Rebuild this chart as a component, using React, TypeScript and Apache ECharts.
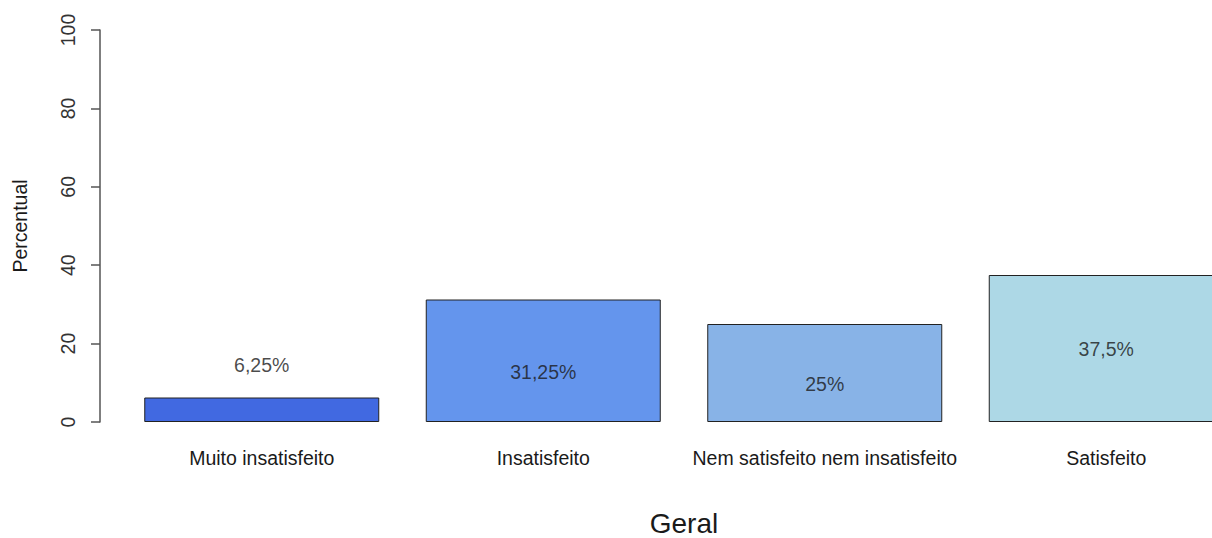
import React, { useEffect, useRef } from "react";
import * as echarts from "echarts";

const categories = [
  "Muito insatisfeito",
  "Insatisfeito",
  "Nem satisfeito nem insatisfeito",
  "Satisfeito",
];
const values = [6.25, 31.25, 25, 37.5];
const valueLabels = ["6,25%", "31,25%", "25%", "37,5%"];
const labelPos = [14.6, 12.7, 9.6, 18.5];
const barColors = ["#4169E1", "#6495ED", "#88B3E7", "#ADD8E6"];
const yTicks = [0, 20, 40, 60, 80, 100];

export default function App() {
  const ref = useRef<HTMLDivElement>(null);
  useEffect(() => {
    document.body.style.margin = "0";
    const chart = echarts.init(ref.current!, null, { renderer: "svg" });
    const font = "Liberation Sans, Arial, sans-serif";
    chart.setOption({
      animation: false,
      backgroundColor: "#ffffff",
      grid: {
        left: 121,
        top: 30,
        width: 1126,
        height: 392,
        containLabel: false,
        outerBoundsMode: "none",
      },
      xAxis: {
        type: "category",
        data: categories,
        axisLine: { show: false },
        axisTick: { show: false },
        axisLabel: {
          margin: 26,
          fontSize: 19.5,
          color: "#1a1a1a",
          fontFamily: font,
          interval: 0,
        },
        name: "Geral",
        nameLocation: "middle",
        nameGap: 87,
        nameTextStyle: { fontSize: 28, color: "#1a1a1a", fontFamily: font },
      },
      yAxis: {
        type: "value",
        min: yTicks[0],
        max: yTicks[yTicks.length - 1],
        interval: 20,
        offset: 21,
        splitLine: { show: false },
        axisLine: { show: true, lineStyle: { color: "#555", width: 1.5 } },
        axisTick: { show: true, length: 9, lineStyle: { color: "#555", width: 1.5 } },
        axisLabel: {
          rotate: 90,
          margin: 22,
          fontSize: 19.5,
          color: "#333",
          fontFamily: font,
        },
        name: "Percentual",
        nameLocation: "middle",
        nameRotate: 90,
        nameGap: 70,
        nameTextStyle: { fontSize: 19.5, color: "#1a1a1a", fontFamily: font },
      },
      series: [
        {
          type: "bar",
          barWidth: 235,
          data: values.map((v, i) => ({
            value: v,
            itemStyle: { color: barColors[i] },
          })),
          itemStyle: { borderColor: "#222", borderWidth: 1 },
        },
        {
          type: "scatter",
          symbolSize: 0,
          data: labelPos,
          silent: true,
          label: {
            show: true,
            position: "inside",
            formatter: (p: any) => valueLabels[p.dataIndex],
            fontSize: 19.5,
            color: "#1a1a1a",
            fontFamily: font,
          },
        },
      ],
    });
    return () => chart.dispose();
  }, []);
  return <div ref={ref} style={{ width: 1212, height: 538 }} />;
}
